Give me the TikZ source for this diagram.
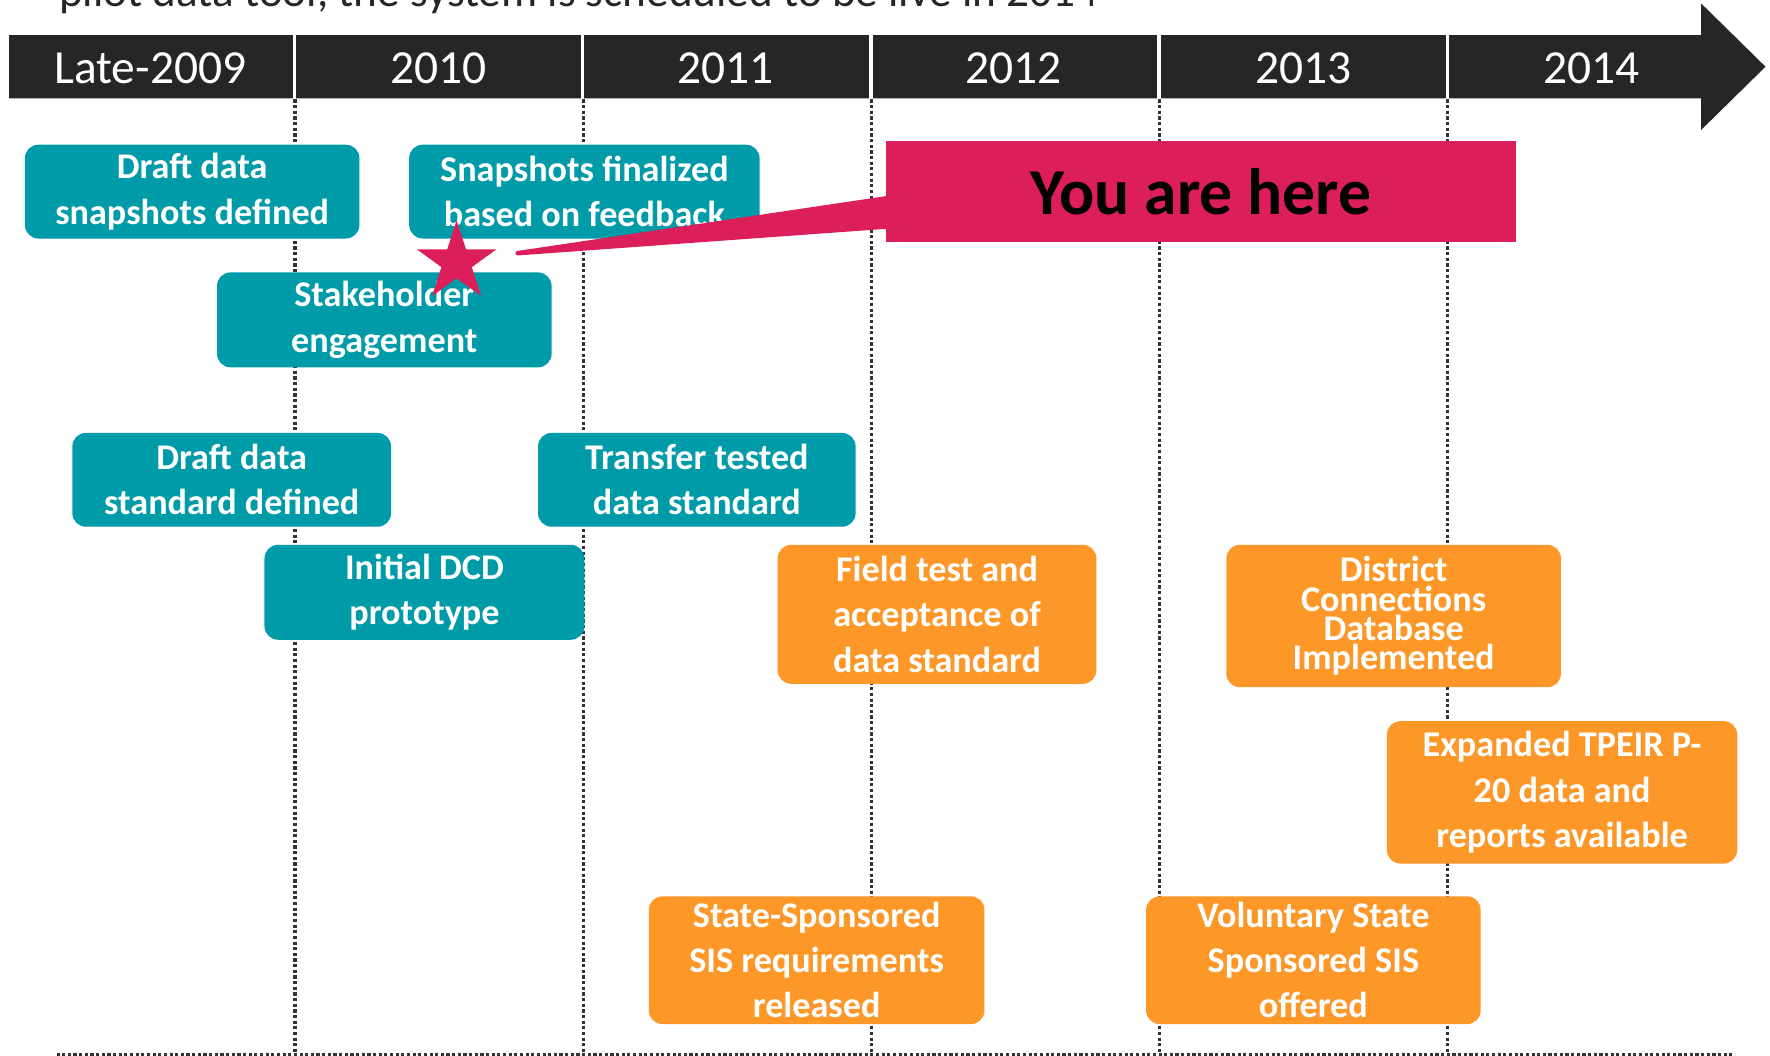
\documentclass[tikz,border=0pt]{standalone}
\usepackage{fontspec}
\setmainfont{Carlito}
\usetikzlibrary{shapes.geometric,calc}

\definecolor{barcol}{HTML}{262626}
\definecolor{tealcol}{HTML}{009BA8}
\definecolor{orangecol}{HTML}{FD9727}
\definecolor{pinkcol}{HTML}{DC1E5A}
\definecolor{gridcol}{HTML}{333333}

\begin{document}
\begin{tikzpicture}[x=0.5pt,y=-0.5pt,
    year node/.style={text=white,font=\fontsize{21}{25}\selectfont,inner sep=0pt},
    teal node/.style={rectangle,rounded corners=6pt,fill=tealcol,text=white,align=center,inner sep=0pt,font=\bfseries\fontsize{16}{20}\selectfont},
    orange node/.style={teal node,fill=orangecol},
    grid line/.style={gridcol,line width=1.4pt,dash pattern=on 1.4pt off 1.1pt},
    callout/.style={fill=pinkcol}
    ]
    \useasboundingbox (0,0) rectangle (1566,934);

    \node[anchor=base west,inner sep=0pt,text=barcol,font=\fontsize{20}{24}\selectfont] (intro) at (52,6) {pilot data tool, the system is scheduled to be live in 2014};

    % year grid
    \foreach \x in {261,516,771,1026,1281}
        \draw[grid line] (\x,88) -- (\x,933);
    \draw[grid line,line width=1.1pt] (50,933) -- (1535,933);

    % timeline arrow
    \fill[barcol] (8,31) -- (1505,31) -- (1505,3) -- (1562,59) -- (1505,115) -- (1505,87) -- (8,87) -- cycle;
    \foreach \x in {260.5,515.5,770.5,1025.5,1280.5}
        \draw[white,line width=1.5pt] (\x,30) -- (\x,88);
    \foreach \yr/\x [count=\i] in {Late-2009/133,2010/388,2011/642,2012/897,2013/1153,2014/1408}
        \node[year node] (year\i) at (\x,60) {\yr};

    % milestones
    \node[teal node,minimum width=148pt,minimum height=41.5pt] (snapdraft) at (170,169.5) {Draft data\\snapshots defined};
    \node[teal node,minimum width=155pt,minimum height=41.5pt] (snapfinal) at (517,169.5) {Snapshots finalized\\based on feedback};
    \node[teal node,minimum width=148pt,minimum height=42pt] (stake) at (340,283) {Stakeholder\\engagement};
    \node[teal node,minimum width=141pt,minimum height=41.5pt] (stddraft) at (205,424.5) {Draft data\\standard defined};
    \node[teal node,minimum width=140.5pt,minimum height=41.5pt] (transfer) at (616.5,424.5) {Transfer tested\\data standard};
    \node[teal node,minimum width=141.5pt,minimum height=42pt] (dcd) at (375.5,524) {Initial DCD\\prototype};

    \node[orange node,minimum width=141pt,minimum height=61.5pt] (field) at (829,543.5) {Field test and\\acceptance of\\data standard};
    \node[orange node,minimum width=148pt,minimum height=63pt,font=\bfseries\fontsize{16}{13}\selectfont] (district) at (1233,545) {District\\Connections\\Database\\Implemented};
    \node[orange node,minimum width=155pt,minimum height=63pt] (tpeir) at (1382,701) {Expanded TPEIR P-\\20 data and\\reports available};
    \node[orange node,minimum width=148.5pt,minimum height=56.5pt] (sis) at (722.5,849.5) {State-Sponsored\\SIS requirements\\released};
    \node[orange node,minimum width=148pt,minimum height=56.5pt] (voluntary) at (1162,849.5) {Voluntary State\\Sponsored SIS\\offered};

    % you are here
    \node[callout,minimum width=278.5pt,minimum height=44.5pt,inner sep=0pt,font=\bfseries\fontsize{29}{34}\selectfont] (here) at (1062.5,169.5) {You are here};
    \coordinate (tip) at (458,224);
    \filldraw[callout,draw=pinkcol,line width=2pt,line join=round] ($(here.south west)+(1,-39)$) -- (tip) -- ($(here.south west)+(1,-14)$) -- cycle;
    \node[star,star points=5,star point ratio=2.618,callout,minimum size=37pt,inner sep=0pt] (star) at (404,232) {};
\end{tikzpicture}
\end{document}
